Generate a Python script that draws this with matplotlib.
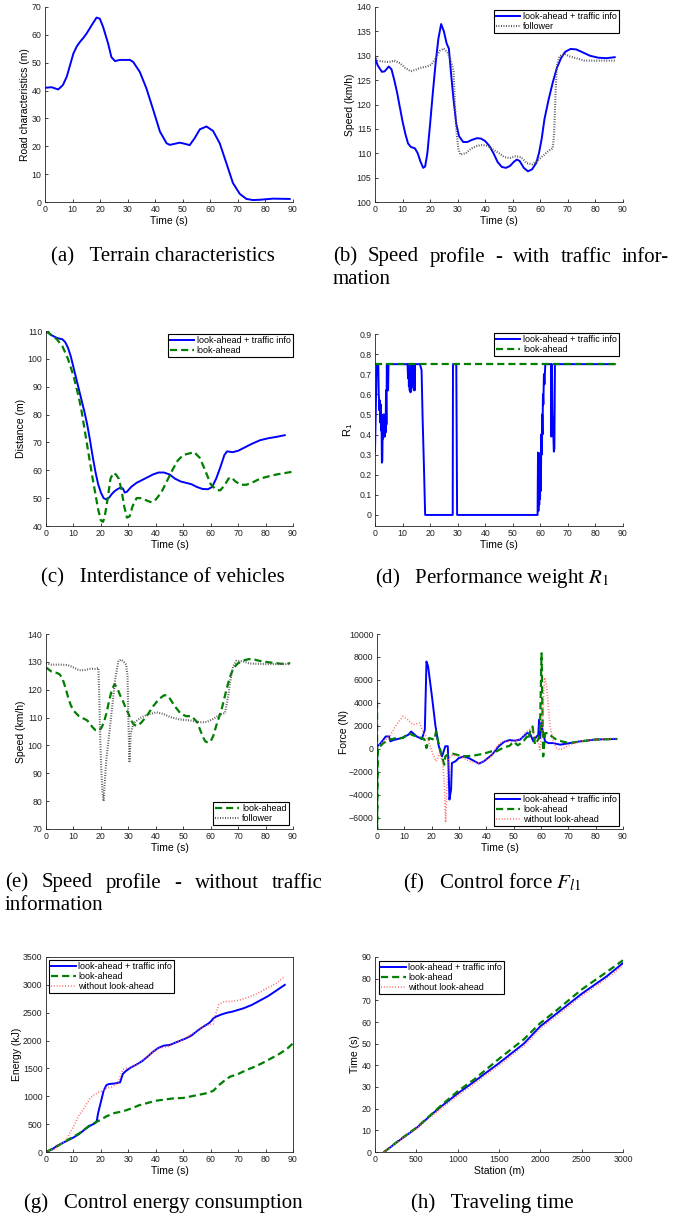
import matplotlib
matplotlib.use("Agg")
import matplotlib.pyplot as plt

plt.rcParams['font.family'] = ['Liberation Sans', 'DejaVu Sans']
plt.rcParams['mathtext.fontset'] = 'stix'

# ---------------- data ----------------
# (a) terrain
ta = [0, 2.4, 4.8, 6.5, 7.9, 9.2, 10.3, 11.5, 12.7, 14, 15.1, 16.9, 18.7, 19.9, 21.1, 22.9, 24.1, 25.4,
      27.2, 30.8, 32, 34.4, 36.8, 39.3, 41.7, 44.1, 45.3, 48.9, 50.7, 52.5, 54.3, 56.2, 58.6, 61, 63.4,
      65.8, 68.2, 70.7, 73.1, 75.5, 77.9, 82.7, 88.8]
ya = [41, 41.2, 40.4, 42, 45, 49.5, 53.3, 55.8, 57.5, 59, 60.5, 63.4, 66.2, 65.8, 62.8, 56.9, 52, 50.6,
      51, 51, 50.3, 46.7, 40.8, 33, 25.3, 21.1, 20.5, 21.3, 20.9, 20.4, 22.9, 26.1, 27.1, 25.5, 21.1,
      14, 6.8, 2.9, 1.1, 0.7, 0.8, 1.2, 1.1]

# (b) speed with traffic info
tb_blue = [0, 1, 2.5, 3.5, 5, 6, 7, 8, 9, 10, 11, 12, 13, 14.5, 15.5, 16.5, 17.5, 18.2, 19, 20, 21, 22,
           23, 24, 25, 26, 26.8, 27.5, 28.5, 29.5, 30.5, 32, 33.5, 35, 37, 38.5, 40, 41.5, 43, 44.5, 46,
           47.5, 49, 50.5, 51.5, 52.5, 54, 55.5, 57, 58.5, 59.5, 60.5, 61.5, 63, 64.5, 66, 67.5, 69, 71,
           73, 75, 78, 81, 84, 87]
vb_blue = [129.5, 128, 126.7, 126.8, 127.8, 127.2, 125, 122.5, 119.5, 116.5, 114, 112, 111.3, 111, 110,
           108.3, 107, 107.3, 110, 116, 122.5, 128.5, 133.5, 136.5, 135, 132.5, 131.5, 127, 121, 116,
           113.5, 112.3, 112.3, 112.7, 113.1, 113, 112.5, 111.5, 110, 108.2, 107.2, 107, 107.4, 108.3,
           108.7, 108.4, 107, 106.3, 106.7, 108, 110, 113, 117, 121, 124.5, 127.5, 129.5, 130.8, 131.4,
           131.3, 130.8, 130, 129.6, 129.5, 129.7]
tb_foll = [0, 1, 3, 5, 7, 9, 11, 13, 15, 17, 19, 20.5, 22, 23.5, 25, 26.5, 27.5, 28.5, 29, 29.5, 30.2,
           31, 33, 35, 37, 39, 41, 43, 45, 47, 49, 51, 53, 55, 57, 59, 61, 63, 64.5, 65, 65.5, 66, 67,
           69, 71, 73, 76, 80, 84, 87]
vb_foll = [130, 129, 128.8, 128.7, 129, 128.5, 127.5, 126.8, 127.2, 127.6, 127.8, 128.2, 129.5, 131,
           131.5, 130.5, 129, 127, 120, 115, 111, 109.7, 110, 111, 111.5, 111.7, 111.5, 110.7, 110,
           109.2, 109, 109.4, 109.2, 108, 107.7, 108.5, 109.5, 110.5, 111, 114, 122, 128, 130, 130.3,
           129.8, 129.5, 129, 129, 129, 129]

# (c) inter-distance
tc_blue = [0, 2, 4, 6, 7, 8, 9, 10, 11, 12, 13, 14, 15, 16, 17, 18, 19, 20, 21, 22, 23, 24, 25, 26, 27,
           28, 28.7, 29.5, 31, 33, 35, 37, 39, 41, 43, 45, 47, 49, 51, 53, 55, 57, 59, 60.5, 62, 63.5,
           65, 66, 68, 70, 72, 75, 78, 81, 84, 87]
dc_blue = [110, 108.5, 107.5, 107, 106, 104, 101, 97, 93, 89, 85, 81, 76.5, 71, 65, 59.5, 55, 52, 50,
           49.5, 50.2, 51.5, 52.5, 53.2, 53.7, 53.5, 52, 52.3, 54, 55.5, 56.5, 57.5, 58.5, 59.2, 59.2,
           58.5, 57, 56, 55.5, 55, 54, 53.3, 53.2, 54, 57, 61, 65.5, 66.8, 66.5, 67, 68, 69.5, 70.8,
           71.5, 72, 72.6]
tc_green = [0, 2, 4, 6, 8, 10, 11, 12, 13, 14, 15, 16, 17, 18, 19, 20, 20.8, 21.5, 22.5, 23.5, 24.5,
            25.5, 26.5, 27.5, 28.5, 29.5, 30.5, 31.5, 33, 35, 37, 38.5, 40, 42, 44, 46, 48, 50, 52, 54,
            56, 58, 60, 62, 63.5, 65, 66.5, 67.5, 69, 71, 73, 75, 78, 81, 84, 87, 90]
dc_green = [110, 108.5, 107, 104.5, 100, 94, 90, 86, 81, 75, 69, 63, 57, 51.5, 46, 42, 41.5, 44, 50,
            57, 59, 58.5, 57, 53, 47, 43, 43.5, 47, 50, 50, 49, 48.5, 49.5, 52, 56, 60, 63.5, 65.5, 66,
            66.5, 64.5, 60, 55, 53, 52.8, 54.5, 57, 57.5, 56, 54.8, 54.8, 55.5, 57, 57.8, 58.5, 59, 59.5]

# (d) performance weight R1
td_blue = [0, 0.6, 1.2, 1.35, 1.5, 1.6, 1.75, 1.9, 2.05, 2.2, 2.35, 2.5, 2.65, 2.8, 2.95, 3.1, 3.25,
           3.4, 3.55, 3.7, 3.85, 4.0, 4.15, 4.3, 4.45, 4.6, 4.75, 4.9,
           11.8, 12.0, 12.15, 12.3, 12.45, 12.6, 12.75, 12.9, 13.05, 13.2, 13.35, 13.5, 13.65, 13.8,
           13.95, 14.1, 14.25, 14.4, 14.55,
           16.3, 16.9, 17.3, 17.8, 18.2, 28.2, 28.3, 29.5, 29.8,
           59.0, 59.15, 59.3, 59.45, 59.6, 59.75, 59.9, 60.05, 60.2, 60.35, 60.5, 60.65, 60.8, 60.95,
           61.1, 61.3, 61.5, 61.8,
           63.9, 64.0, 64.2, 64.4, 64.6, 64.9, 65.1, 65.3, 87.0]
rd_blue = [0.315, 0.75, 0.75, 0.6, 0.57, 0.52, 0.57, 0.46, 0.55, 0.42, 0.5, 0.26, 0.27, 0.45, 0.38,
           0.5, 0.4, 0.49, 0.39, 0.5, 0.41, 0.62, 0.45, 0.75, 0.62, 0.75, 0.62, 0.75,
           0.75, 0.68, 0.75, 0.64, 0.72, 0.62, 0.7, 0.61, 0.74, 0.63, 0.75, 0.66, 0.75, 0.65,
           0.75, 0.62, 0.75, 0.62, 0.75,
           0.75, 0.72, 0.47, 0.22, 0.0, 0.0, 0.75, 0.75, 0.0,
           0.0, 0.31, 0.02, 0.2, 0.05, 0.25, 0.08, 0.31, 0.12, 0.4, 0.3, 0.5, 0.4, 0.6,
           0.55, 0.7, 0.65, 0.75,
           0.75, 0.39, 0.75, 0.5, 0.45, 0.315, 0.33, 0.75, 0.75]
td_green = [0, 87]
rd_green = [0.75, 0.75]

# (e) speed without traffic info
te_green = [0, 2, 4, 5, 6, 7, 8, 9, 10, 11, 12, 13, 15, 17, 18, 19, 20, 21, 22, 23, 24, 25, 26, 27, 28,
            29, 30, 31, 32, 33, 34, 35, 37, 39, 41, 43, 44, 45, 47, 49, 51, 53, 55, 56, 57, 58, 59, 60,
            61, 62, 63, 64, 65, 66, 67, 68, 69, 70, 72, 74, 76, 78, 80, 83, 86, 89]
ve_green = [128, 126.5, 126, 125.5, 124, 121, 117.5, 114.5, 112.5, 111.5, 110.5, 110, 109, 106.5,
            105.5, 105.3, 106, 108, 111.5, 116, 120, 122, 120.5, 118, 116, 113.5, 111.5, 109, 107.5,
            107, 107.5, 108.5, 111, 114, 116.5, 118, 118, 117, 114, 111.5, 110.5, 110.5, 108.5, 106,
            103.5, 101.5, 101, 101.5, 103.5, 107, 110, 113, 117, 121, 124.5, 127, 128.5, 129.5, 130.5,
            131, 130.8, 130.3, 130, 129.6, 129.3, 129.5]
te_foll = [0, 2, 4, 6, 8, 10, 12, 14, 16, 18, 19.1, 19.4, 19.7, 20.1, 20.6, 21, 21.5, 22, 22.8, 24,
           25.2, 26.4, 27.3, 28.2, 29.2, 29.7, 30.0, 30.4, 30.9, 31.9, 34.3, 36.7, 40.3, 42.8, 45.2,
           48.8, 52.4, 56.1, 58.5, 60.9, 63.3, 65.2, 66.4, 67, 68.2, 69.4, 71.8, 74.2, 80.3, 88.8]
ve_foll = [129.5, 129, 129, 129, 128.8, 128, 127, 127, 127.5, 127.5, 127.8, 118, 105, 92, 83, 80, 88,
           95, 102, 112.8, 123.6, 130.4, 130.8, 130.2, 129, 124.8, 110.4, 94.3, 104.5, 108, 109.8, 111,
           111.9, 111.3, 110.2, 109.3, 109, 108.3, 108.4, 109.5, 111, 111.6, 117.6, 122.4, 128.4,
           130.4, 130.2, 129.4, 129.2, 129.2]

# (f) control force
tf_blue = [0, 0.05, 1, 2.3, 3.2, 4.4, 4.9, 6, 9, 11.5, 12.5, 14.5, 16.4, 17.5, 18.1, 18.7, 20.1, 21.4,
           22.6, 23.8, 25, 25.9, 26.2, 26.5, 27.1, 27.4, 28.7, 29.9, 31.8, 33.6, 37.3, 39.1, 42.1,
           44.5, 46.5, 48.5, 50.5, 52.3, 54.8, 56, 57.2, 58.4, 59, 59.3, 59.6, 60.2, 60.6, 61.5, 62.7,
           64.5, 67, 70.6, 74.3, 80, 87]
ff_blue = [-7000, 200, 400, 780, 1070, 1070, 640, 750, 930, 1220, 1500, 1070, 840, 1650, 7600, 7170,
           4560, 1960, 220, -670, 220, 220, -1830, -4430, -3560, -1250, -1100, -820, -670, -820, -1300,
           -1100, -520, 200, 600, 750, 700, 780, 1360, 1300, 640, 1070, 1200, 2520, 900, 2300, 1500,
           640, 490, 490, 350, 490, 640, 800, 850]
tf_green = [0, 0.02, 0.06, 0.3, 2.3, 4.6, 7, 9.5, 11.5, 13.4, 15.2, 17.3, 18.1, 19.1, 21, 21.6, 22.2,
            23.4, 24.6, 25, 25.9, 27.8, 31.5, 35.1, 38.8, 41.9, 43.7, 45.5, 47, 48.5, 50, 51.5, 53.5,
            54.8, 55.4, 56, 56.9, 57.8, 59, 59.6, 60.2, 60.8, 61.5, 62.7, 63.9, 65.7, 68.2, 70.6, 75,
            80, 88]
ff_green = [4110, 4110, -7000, 0, 490, 780, 930, 930, 1360, 1150, 1020, 840, 60, 930, 780, 1500, 800,
            -380, -1390, -670, -500, -440, -670, -610, -450, -230, -230, 0, 150, 250, 600, 300, 600,
            1070, 800, 1500, 1940, 350, 800, 1360, 8320, -670, 1360, 1360, 1070, 780, 600, 490, 650,
            800, 850]
tf_red = [0, 2, 4.6, 7.1, 9.5, 11.3, 13.2, 15.6, 16.8, 18.7, 20.5, 21.7, 22.9, 24.1, 24.7, 25.1, 25.6,
          26.2, 27.8, 30.3, 33.9, 37.6, 41.2, 44.2, 46.5, 49, 51, 53, 54.8, 56.6, 57.8, 59, 59.6, 60.2,
          61.3, 62.1, 63.3, 64.5, 65.7, 67, 68.8, 70.6, 74.3, 80, 87]
ff_red = [200, 600, 1070, 2090, 2810, 2520, 2090, 2230, 1500, 780, -520, -1100, -380, -1250, -3560,
          -6440, -3270, -820, -520, -670, -1100, -1250, -820, 300, 700, 600, 700, 1000, 1500, 1790,
          900, 500, -90, 1000, 6200, 5420, 1940, 640, 60, -90, 100, 350, 640, 800, 900]

# (g) control energy
tg_blue = [0, 2, 4, 6, 8, 10, 12, 14, 16, 18, 18.5, 19, 20, 21, 22, 23, 25, 27, 28, 29, 31, 33, 35,
           37, 39, 41, 43, 45, 47, 49, 51, 53, 55, 57, 59, 60, 61, 62, 64, 66, 68, 70, 72, 75, 78, 81,
           84, 87]
eg_blue = [0, 40, 110, 160, 210, 260, 320, 400, 470, 520, 560, 700, 900, 1100, 1200, 1220, 1230, 1250,
           1400, 1450, 1520, 1570, 1630, 1710, 1800, 1870, 1910, 1920, 1960, 2000, 2040, 2090, 2170,
           2240, 2300, 2340, 2400, 2430, 2470, 2500, 2520, 2550, 2580, 2640, 2720, 2800, 2900, 3000]
tg_green = [0, 4, 8, 12, 16, 18, 20, 22, 25, 28, 31, 34, 37, 40, 43, 46, 50, 53, 56, 59, 61, 63, 65,
            67, 70, 73, 76, 79, 82, 85, 88, 90]
eg_green = [0, 100, 220, 330, 480, 530, 580, 640, 700, 730, 780, 840, 880, 920, 940, 960, 970, 1000,
            1030, 1060, 1100, 1200, 1280, 1350, 1400, 1470, 1530, 1600, 1680, 1760, 1860, 1950]
tg_red = [0, 3, 5, 7, 8, 9, 10, 11, 12, 13, 14, 15, 16, 17, 18, 19, 20, 21, 22, 24, 25, 26, 27, 28,
          29, 31, 33, 35, 37, 39, 41, 43, 45, 47, 49, 51, 53, 55, 57, 59, 60, 61, 62, 63, 65, 67, 70,
          72, 75, 78, 81, 84, 87]
eg_red = [0, 50, 120, 200, 280, 370, 450, 560, 660, 720, 800, 880, 960, 1010, 1040, 1070, 1080, 1110,
          1150, 1170, 1200, 1230, 1350, 1480, 1500, 1520, 1570, 1640, 1710, 1800, 1860, 1880, 1900,
          1960, 2000, 2050, 2110, 2180, 2240, 2280, 2290, 2300, 2500, 2650, 2700, 2700, 2720, 2750,
          2800, 2870, 2950, 3030, 3150]

# (h) traveling time
sh = [110, 300, 500, 700, 800, 1000, 1200, 1500, 1800, 2000, 2200, 2500, 2800, 3000]
th_blue = [0, 5.5, 11, 17.8, 21, 27, 32.5, 41, 50, 58, 64, 73, 81, 87.2]
th_green = [0, 5.7, 11.2, 18, 21.5, 28, 33.5, 43, 52, 59.5, 65.5, 75, 83, 88.5]
th_red = [0, 5.4, 10.8, 17, 20, 26, 31.5, 40, 49, 57, 63, 72, 80, 86]

lab_lt = 'look-ahead + traffic info'
lab_la = 'look-ahead'
lab_wo = 'without look-ahead'
lab_fo = 'follower'

# ---------------- styles ----------------
BLUE = dict(color='#0000ff', lw=1.4, ls='-')
GREEN = dict(color='#007f00', lw=1.6, ls=(0, (3.2, 1.8)))
FOLL = dict(color='#555555', lw=1.5, ls=(0, (0.45, 0.75)))
RED = dict(color='#ff5a5a', lw=1.2, ls=(0, (0.5, 1.2)))

W, H = 673, 1218
fig = plt.figure(figsize=(W / 100, H / 100), dpi=100)

TICK = 6.3
XL = 7.5
LEG = 6.5


def add_ax(l, r, t, b, box=False):
    ax = fig.add_axes([l / W, 1 - b / H, (r - l) / W, (b - t) / H])
    for s in ['top', 'right']:
        ax.spines[s].set_visible(box)
    for s in ax.spines.values():
        s.set_linewidth(0.6)
        s.set_color('#222222')
    ax.tick_params(direction='in', length=2.2, width=0.6, labelsize=TICK, pad=2.5,
                   colors='#222222', top=False, right=False)
    return ax


def legend(ax, loc, anchor):
    lg = ax.legend(loc=loc, bbox_to_anchor=anchor, borderaxespad=0, fontsize=LEG,
                   handlelength=2.7, handletextpad=0.3, borderpad=0.25, labelspacing=0.1,
                   fancybox=False, framealpha=1)
    lg.get_frame().set_edgecolor('black')
    lg.get_frame().set_linewidth(0.8)
    return lg


XP = 0.8
YP = 1

# (a)
ax = add_ax(45, 293, 7, 202)
ax.plot(ta, ya, **BLUE)
ax.set_xlim(0, 90); ax.set_ylim(0, 70)
ax.set_xticks(range(0, 91, 10)); ax.set_yticks(range(0, 71, 10))
ax.set_xlabel('Time (s)', fontsize=XL, labelpad=XP)
ax.set_ylabel('Road characteristics (m)', fontsize=XL, labelpad=YP)

# (b)
ax = add_ax(375, 623, 7, 202)
ax.plot(tb_blue, vb_blue, label=lab_lt, **BLUE)
ax.plot(tb_foll, vb_foll, label=lab_fo, **FOLL)
ax.set_xlim(0, 90); ax.set_ylim(100, 140)
ax.set_xticks(range(0, 91, 10)); ax.set_yticks(range(100, 141, 5))
ax.set_xlabel('Time (s)', fontsize=XL, labelpad=XP)
ax.set_ylabel('Speed (km/h)', fontsize=XL, labelpad=YP)
legend(ax, 'upper right', (0.984, 0.985))

# (c)
ax = add_ax(46, 293, 331, 526)
ax.plot(tc_blue, dc_blue, label=lab_lt, **BLUE)
ax.plot(tc_green, dc_green, label=lab_la, **GREEN)
ax.set_xlim(0, 90); ax.set_ylim(40, 110)
ax.set_xticks(range(0, 91, 10)); ax.set_yticks(range(40, 111, 10))
ax.set_xlabel('Time (s)', fontsize=XL, labelpad=XP)
ax.set_ylabel('Distance (m)', fontsize=XL, labelpad=YP)
legend(ax, 'upper right', (1.0, 0.985))

# (d)
ax = add_ax(375, 623, 334, 526)
ax.plot(td_blue, rd_blue, label=lab_lt, **BLUE)
ax.plot(td_green, rd_green, label=lab_la, **GREEN)
ax.set_xlim(0, 90); ax.set_ylim(-0.055, 0.9)
ax.set_xticks(range(0, 91, 10))
yt = [i / 10 for i in range(10)]
ax.set_yticks(yt)
ax.set_yticklabels(['0'] + ['%.1f' % v for v in yt[1:]])
ax.set_xlabel('Time (s)', fontsize=XL, labelpad=XP)
ax.set_ylabel(r'R$_\mathregular{1}$', fontsize=XL + 0.5, labelpad=3)
legend(ax, 'upper right', (0.984, 1.005))

# (e)
ax = add_ax(46, 293, 634, 829)
ax.plot(te_green, ve_green, label=lab_la, **GREEN)
ax.plot(te_foll, ve_foll, label=lab_fo, **FOLL)
ax.set_xlim(0, 90); ax.set_ylim(70, 140)
ax.set_xticks(range(0, 91, 10)); ax.set_yticks(range(70, 141, 10))
ax.set_xlabel('Time (s)', fontsize=XL, labelpad=XP)
ax.set_ylabel('Speed (km/h)', fontsize=XL, labelpad=YP)
legend(ax, 'lower right', (0.984, 0.02))

# (f)
ax = add_ax(377, 623, 634, 829)
ax.plot(tf_blue, ff_blue, label=lab_lt, **BLUE)
ax.plot(tf_green, ff_green, label=lab_la, **GREEN)
ax.plot(tf_red, ff_red, label=lab_wo, **RED)
ax.set_xlim(0, 90); ax.set_ylim(-7000, 10000)
ax.set_xticks(range(0, 91, 10)); ax.set_yticks(range(-6000, 10001, 2000))
ax.set_xlabel('Time (s)', fontsize=XL, labelpad=XP)
ax.set_ylabel('Force (N)', fontsize=XL, labelpad=0)
legend(ax, 'lower right', (0.984, 0.015))

# (g)
ax = add_ax(46, 293, 957, 1152, box=True)
ax.plot(tg_blue, eg_blue, label=lab_lt, **BLUE)
ax.plot(tg_green, eg_green, label=lab_la, **GREEN)
ax.plot(tg_red, eg_red, label=lab_wo, **RED)
ax.set_xlim(0, 90); ax.set_ylim(0, 3500)
ax.set_xticks(range(0, 91, 10)); ax.set_yticks(range(0, 3501, 500))
ax.set_xlabel('Time (s)', fontsize=XL, labelpad=XP)
ax.set_ylabel('Energy (kJ)', fontsize=XL, labelpad=YP)
legend(ax, 'upper left', (0.012, 0.985))

# (h)
ax = add_ax(375, 623, 957, 1152)
ax.plot(sh, th_blue, label=lab_lt, **BLUE)
ax.plot(sh, th_green, label=lab_la, **GREEN)
ax.plot(sh, th_red, label=lab_wo, **RED)
ax.set_xlim(0, 3000); ax.set_ylim(0, 90)
ax.set_xticks(range(0, 3001, 500)); ax.set_yticks(range(0, 91, 10))
ax.set_xlabel('Station (m)', fontsize=XL, labelpad=XP)
ax.set_ylabel('Time (s)', fontsize=XL, labelpad=YP)
legend(ax, 'upper left', (0.016, 0.98))

# ---------------- captions ----------------
CF = dict(family=['Liberation Serif', 'DejaVu Serif'], fontsize=15, va='center')


def cap(x, y, s, ha='center'):
    return fig.text(x / W, 1 - y / H, s, ha=ha, **CF)


cap(163, 257, '(a)   Terrain characteristics')
cap(163, 578, '(c)   Interdistance of vehicles')
cap(492, 578, r'(d)   Performance weight $R_1$')
cap(492, 883, r'(f)   Control force $F_{l1}$')
cap(163, 1203, '(g)   Control energy consumption')
cap(492, 1203, '(h)   Traveling time')

renderer = fig.canvas.get_renderer()


def justify(x0, x1, y, words):
    txts = [cap(x0, y, w, ha='left') for w in words]
    widths = [t.get_window_extent(renderer).width for t in txts]
    gap = (x1 - x0 - sum(widths)) / (len(words) - 1)
    x = x0
    for t, w in zip(txts, widths):
        t.set_x(x / W)
        x += w + gap


justify(333, 669, 257, ['(b)', 'Speed', 'profile', '-', 'with', 'traffic', 'infor-'])
cap(333, 279, 'mation', ha='left')
justify(5, 323, 883, ['(e)', 'Speed', 'profile', '-', 'without', 'traffic'])
cap(5, 905, 'information', ha='left')

fig.savefig('out.png', dpi=100)
